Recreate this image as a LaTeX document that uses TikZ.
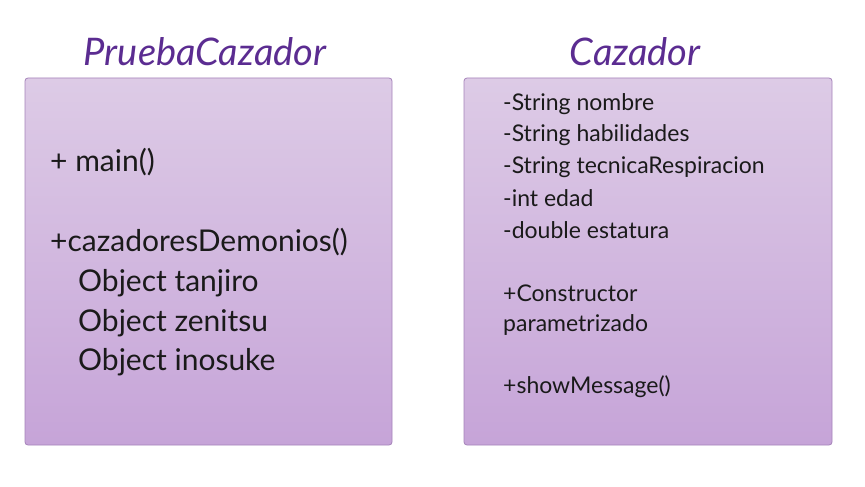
\documentclass[tikz,border=0pt]{standalone}
\usepackage{fontspec}
\setmainfont{Lato}
\definecolor{titlepurple}{HTML}{5B2C91}
\definecolor{boxtop}{HTML}{DDCBE6}
\definecolor{boxbot}{HTML}{C6A4D8}
\definecolor{boxedge}{HTML}{A583BA}
\definecolor{txt}{HTML}{1A1A1A}
\begin{document}
\begin{tikzpicture}[x=1pt,y=-1pt,
  classbox/.style={draw=boxedge, line width=0.8pt, rounded corners=3pt, top color=boxtop, bottom color=boxbot},
  title/.style={text=titlepurple, font=\fontsize{38}{40}\selectfont\itshape, inner sep=0pt},
  bigline/.style={anchor=west, text=txt, font=\fontsize{30}{32}\selectfont, inner sep=0pt},
  smallline/.style={anchor=west, text=txt, font=\fontsize{23}{25}\selectfont, inner sep=0pt}]
\useasboundingbox (0,0) rectangle (865,487);
\fill[white] (0,0) rectangle (865,487);
% boxes
\draw[classbox] (25,78) rectangle (392,445);
\draw[classbox] (464,78) rectangle (832,445);
% titles
\node[title] (t1) at (205,52) {PruebaCazador};
\node[title] (t2) at (635,52) {Cazador};
% left content
\node[bigline] (m1) at (50,162) {+ main()};
\node[bigline] (m2) at (50,242) {+cazadoresDemonios()};
\node[bigline] (m3) at (78,283) {Object tanjiro};
\node[bigline] (m4) at (78,323) {Object zenitsu};
\node[bigline] (m5) at (78,362) {Object inosuke};
% right content
\node[smallline] (a1) at (503,104) {-String nombre};
\node[smallline] (a2) at (503,135) {-String habilidades};
\node[smallline] (a3) at (503,167) {-String tecnicaRespiracion};
\node[smallline] (a4) at (503,198) {-int edad};
\node[smallline] (a5) at (503,230) {-double estatura};
\node[smallline] (c1) at (503,293) {+Constructor};
\node[smallline] (c2) at (503,325) {parametrizado};
\node[smallline] (c3) at (503,387) {+showMessage()};
\end{tikzpicture}
\end{document}
